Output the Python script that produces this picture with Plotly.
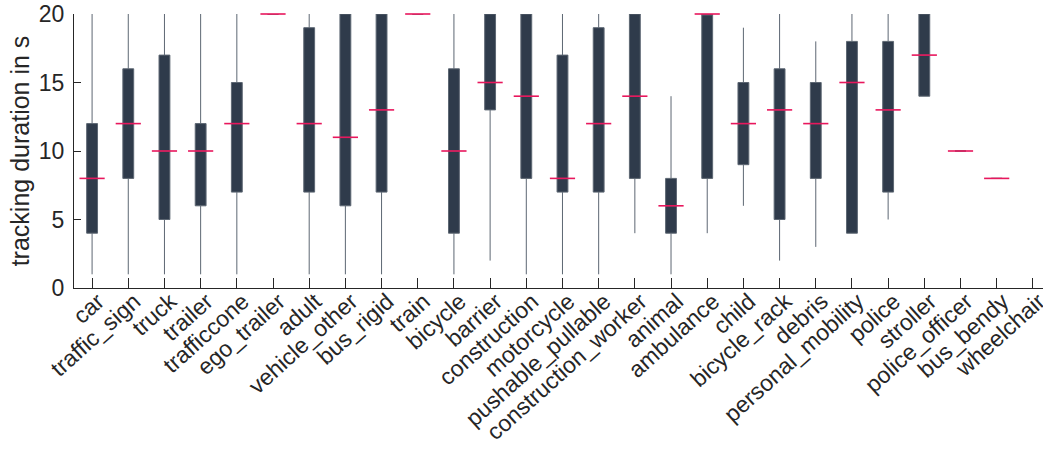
import plotly.graph_objects as go

categories = ["car", "traffic_sign", "truck", "trailer", "trafficcone", "ego_trailer",
              "adult", "vehicle_other", "bus_rigid", "train", "bicycle", "barrier",
              "construction", "motorcycle", "pushable_pullable", "construction_worker",
              "animal", "ambulance", "child", "bicycle_rack", "debris",
              "personal_mobility", "police", "stroller", "police_officer", "bus_bendy",
              "wheelchair"]

# statistics per category (wheelchair has no data)
box_cats = categories[:-1]
lower = [1, 1, 1, 1, 1, 20, 1, 1, 1, 20, 1, 2, 1, 1, 1, 4, 1, 4, 6, 2, 3, 4, 5, 14, 10, 8]
q1 = [4, 8, 5, 6, 7, 20, 7, 6, 7, 20, 4, 13, 8, 7, 7, 8, 4, 8, 9, 5, 8, 4, 7, 14, 10, 8]
median = [8, 12, 10, 10, 12, 20, 12, 11, 13, 20, 10, 15, 14, 8, 12, 14, 6, 20, 12, 13, 12, 15, 13, 17, 10, 8]
q3 = [12, 16, 17, 12, 15, 20, 19, 20, 20, 20, 16, 20, 20, 17, 19, 20, 8, 20, 15, 16, 15, 18, 18, 20, 10, 8]
upper = [20, 20, 20, 20, 20, 20, 20, 20, 20, 20, 20, 20, 20, 20, 20, 20, 14, 20, 19, 20, 18, 20, 20, 20, 10, 8]

y_ticks = [0, 5, 10, 15, 20]

FONT = "Liberation Sans, Arial, sans-serif"
TXT = "#262626"

fig = go.Figure()
fig.add_trace(go.Box(
    x=box_cats, q1=q1, median=median, q3=q3,
    lowerfence=lower, upperfence=upper,
    width=0.3, whiskerwidth=0,
    fillcolor="#2f3b4b",
    line=dict(color="#5d6773", width=1),
    boxpoints=False, showlegend=False, hoverinfo="skip",
))
fig.add_trace(go.Scatter(
    x=box_cats, y=median, mode="markers",
    marker=dict(symbol="line-ew", size=18,
                line=dict(color="#e8175d", width=1.6)),
    showlegend=False, hoverinfo="skip", cliponaxis=False,
))

fig.update_layout(
    width=1043, height=452,
    margin=dict(l=74, r=0, t=14, b=164, autoexpand=False),
    paper_bgcolor="white", plot_bgcolor="white",
    font=dict(family=FONT, size=22, color=TXT),
    xaxis=dict(
        type="category", categoryorder="array", categoryarray=categories,
        range=[-0.5, 26.28], showline=True, linecolor=TXT, linewidth=1,
        ticks="inside", ticklen=10, tickcolor=TXT, tickwidth=1,
        tickangle=-42, tickfont=dict(size=23, family=FONT, color=TXT),
        ticklabelshift=6, ticklabelstandoff=-10,
        showgrid=False, zeroline=False, automargin=False,
    ),
    yaxis=dict(
        range=[0, 20], tickvals=y_ticks, showline=True, linecolor=TXT, linewidth=1,
        ticks="inside", ticklen=7, tickcolor=TXT, tickwidth=1,
        tickfont=dict(size=23, family=FONT, color=TXT), ticklabelstandoff=4,
        title=dict(text="tracking duration in s", font=dict(size=25, family=FONT, color=TXT), standoff=2),
        showgrid=False, zeroline=False, automargin=False,
    ),
)

fig.write_html("out.html")
